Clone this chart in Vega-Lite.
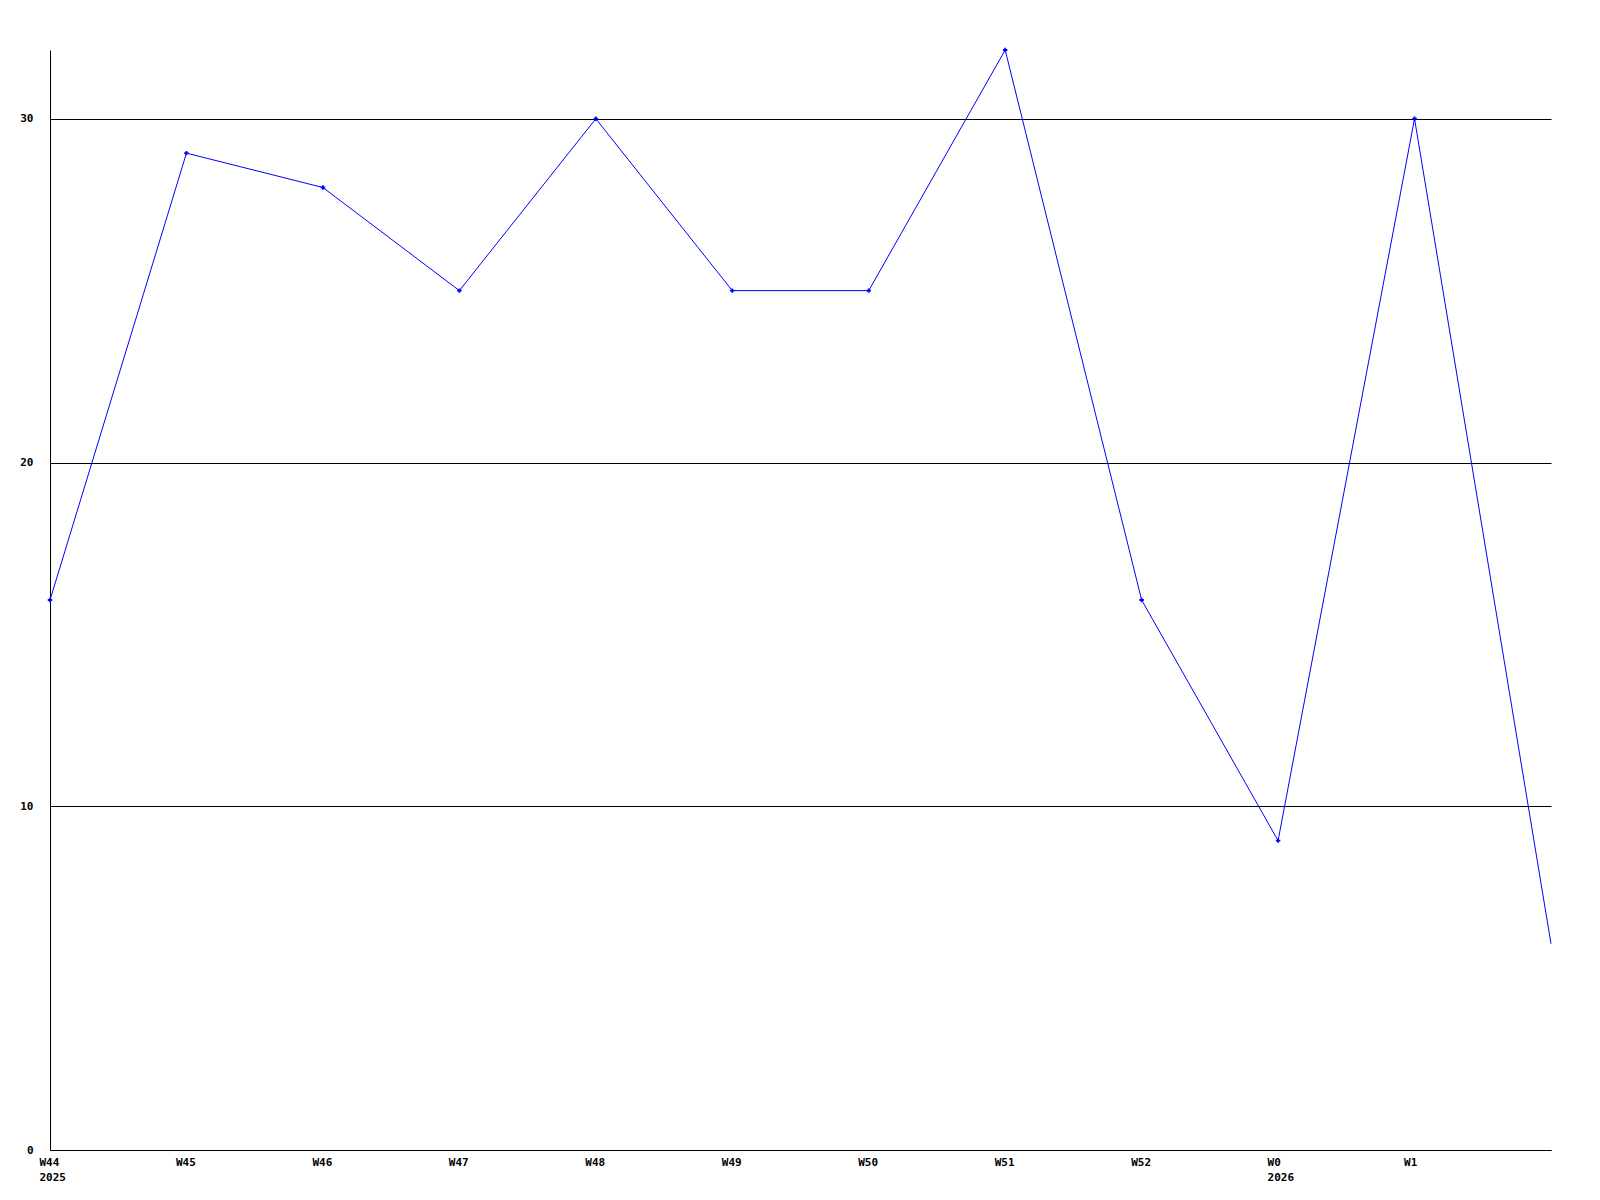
{
  "$schema": "https://vega.github.io/schema/vega-lite/v6.json",
  "width": 1501,
  "height": 1100,
  "autosize": {"type": "none"},
  "padding": {"left": 50, "top": 50, "right": 49, "bottom": 50},
  "background": "white",
  "config": {"view": {"stroke": null}},
  "data": {"values": [
    {"i": 0, "week": "W44", "v": 16},
    {"i": 1, "week": "W45", "v": 29},
    {"i": 2, "week": "W46", "v": 28},
    {"i": 3, "week": "W47", "v": 25},
    {"i": 4, "week": "W48", "v": 30},
    {"i": 5, "week": "W49", "v": 25},
    {"i": 6, "week": "W50", "v": 25},
    {"i": 7, "week": "W51", "v": 32},
    {"i": 8, "week": "W52", "v": 16},
    {"i": 9, "week": "W0", "v": 9},
    {"i": 10, "week": "W1", "v": 30},
    {"i": 11, "week": "W2", "v": 6}
  ]},
  "encoding": {
    "x": {"field": "i", "type": "quantitative", "scale": {"domain": [0, 11], "nice": false, "zero": false},
      "axis": {"title": null, "values": [0,1,2,3,4,5,6,7,8,9,10], "grid": false, "ticks": false,
        "domainColor": "black", "domainWidth": 1, "labelFlush": false, "labelOverlap": false,
        "labelFont": "DejaVu Sans Mono", "labelFontWeight": "bold", "labelFontSize": 11, "labelColor": "black",
        "labelPadding": 6, "labelLineHeight": 15, "labelBaseline": "top", "labelAlign": "left", "labelOffset": -11,
        "labelExpr": "datum.value == 0 ? ['W44','2025'] : datum.value == 9 ? ['W0','2026'] : ['W44','W45','W46','W47','W48','W49','W50','W51','W52','W0','W1'][datum.value]"}},
    "y": {"field": "v", "type": "quantitative", "scale": {"domain": [0, 32], "nice": false},
      "axis": {"title": null, "values": [0, 10, 20, 30], "grid": true, "gridColor": "black", "gridOpacity": 1, "gridWidth": 1,
        "ticks": false, "domainColor": "black", "domainWidth": 1, "labelFlush": false,
        "labelFont": "DejaVu Sans Mono", "labelFontWeight": "bold", "labelFontSize": 11, "labelColor": "black",
        "labelPadding": 17}}
  },
  "layer": [
    {"mark": {"type": "line", "color": "#0000FF", "strokeWidth": 1}},
    {"transform": [{"filter": "datum.i < 11"}],
     "mark": {"type": "point", "shape": "cross", "filled": true, "color": "#0000FF", "size": 20, "opacity": 1}}
  ]
}
